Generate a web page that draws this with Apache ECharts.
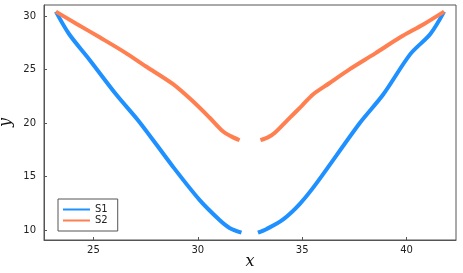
<!DOCTYPE html>
<html>
<head>
<meta charset="utf-8">
<script src="https://cdn.jsdelivr.net/npm/echarts@6/dist/echarts.min.js"></script>
<style>
html,body{margin:0;padding:0;background:#fff;}
#chart{width:463px;height:273px;}
</style>
</head>
<body>
<div id="chart"></div>
<script>
// S1 (blue): left branch, then right branch (gap between them)
var s1LeftX  = [23.2, 23.83, 24.79, 26.08, 27.2, 28.8, 30.08, 31.04, 31.52, 32.09];
var s1LeftY  = [30.4, 28.31, 25.96, 22.68, 20.1, 15.94, 12.82, 10.94, 10.2, 9.75];
var s1RightX = [32.88, 33.3, 34.09, 34.89, 35.69, 37.77, 38.89, 40.18, 41.14, 41.8];
var s1RightY = [9.75, 10.1, 11.0, 12.45, 14.38, 20.02, 22.68, 26.43, 28.31, 30.4];
// S2 (orange)
var s2LeftX  = [23.2, 24.2, 25.3, 26.5, 27.5, 28.8, 29.75, 30.57, 31.2, 31.6, 32.0];
var s2LeftY  = [30.4, 29.25, 28.0, 26.6, 25.3, 23.65, 22.05, 20.49, 19.23, 18.75, 18.39];
var s2RightX = [33.0, 33.4, 33.69, 34.33, 34.97, 35.53, 36.3, 37.3, 38.5, 39.7, 40.8, 41.8];
var s2RightY = [18.39, 18.7, 19.08, 20.33, 21.58, 22.68, 23.71, 25.05, 26.5, 28.0, 29.2, 30.4];
var xTicks = [25, 30, 35, 40];
var yTicks = [10, 15, 20, 25, 30];
var seriesNames = ['S1', 'S2'];

function pairs(lx, ly, rx, ry) {
  var out = [];
  for (var i = 0; i < lx.length; i++) out.push([lx[i], ly[i]]);
  out.push([(lx[lx.length - 1] + rx[0]) / 2, null]);
  for (var j = 0; j < rx.length; j++) out.push([rx[j], ry[j]]);
  return out;
}

var chart = echarts.init(document.getElementById('chart'), null, {renderer: 'canvas'});
var axisColor = '#555';
var labelFont = {color: '#222', fontSize: 10, fontFamily: 'DejaVu Sans'};
chart.setOption({
  animation: false,
  backgroundColor: '#fff',
  grid: {left: 44, top: 5, right: 7, bottom: 33, show: true, borderColor: axisColor, borderWidth: 1,
         backgroundColor: 'transparent', containLabel: false, outerBoundsMode: 'none'},
  legend: {
    data: seriesNames,
    orient: 'vertical',
    left: 58, top: 199,
    icon: 'rect',
    itemWidth: 27, itemHeight: 2,
    itemGap: 0,
    padding: [5, 10, 5, 5],
    borderColor: axisColor, borderWidth: 1,
    textStyle: {fontSize: 10, lineHeight: 11, fontFamily: 'DejaVu Sans', color: '#222'}
  },
  xAxis: {
    type: 'value', min: 22.63, max: 42.37,
    name: 'x', nameLocation: 'middle', nameGap: 14, nameMoveOverlap: false,
    nameTextStyle: {fontFamily: 'DejaVu Serif', fontStyle: 'italic', fontSize: 16, color: '#111'},
    axisLine: {show: true, lineStyle: {color: axisColor}},
    axisTick: {show: true, inside: true, length: 3, lineStyle: {color: axisColor}, customValues: xTicks},
    axisLabel: Object.assign({margin: 5, customValues: xTicks}, labelFont),
    splitLine: {show: false}
  },
  yAxis: {
    type: 'value', min: 9.07, max: 31.02,
    name: 'y', nameLocation: 'middle', nameGap: 30, nameMoveOverlap: false,
    nameTextStyle: {fontFamily: 'DejaVu Serif', fontStyle: 'italic', fontSize: 16, color: '#111'},
    axisLine: {show: true, lineStyle: {color: axisColor}},
    axisTick: {show: true, inside: true, length: 3, lineStyle: {color: axisColor}, customValues: yTicks},
    axisLabel: Object.assign({margin: 8, customValues: yTicks}, labelFont),
    splitLine: {show: false}
  },
  series: [
    {name: seriesNames[0], type: 'line', data: pairs(s1LeftX, s1LeftY, s1RightX, s1RightY),
     showSymbol: false, symbol: 'none', smooth: 0.3, connectNulls: false,
     color: '#1e90ff', lineStyle: {width: 4, color: '#1e90ff'}},
    {name: seriesNames[1], type: 'line', data: pairs(s2LeftX, s2LeftY, s2RightX, s2RightY),
     showSymbol: false, symbol: 'none', smooth: 0.3, connectNulls: false,
     color: '#ff7f50', lineStyle: {width: 4, color: '#ff7f50'}}
  ]
});
</script>
</body>
</html>
